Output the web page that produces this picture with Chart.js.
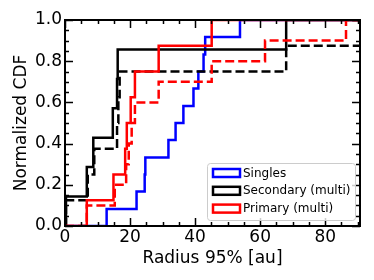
<!DOCTYPE html>
<html>
<head>
<meta charset="utf-8">
<script src="https://cdn.jsdelivr.net/npm/chart.js@4.4.9/dist/chart.umd.min.js"></script>
<style>
  html, body { margin: 0; padding: 0; background: #fff; }
</style>
</head>
<body>
<canvas id="cdf-chart" width="374" height="280"></canvas>
<script>
// radius values where each CDF steps up, and the CDF level after the step
const singlesX = [0, 12.8, 22.0, 24.5, 24.7, 31.8, 34.0, 36.4, 39.5, 41.0, 42.6, 43.1, 53.8, 95];
const singlesY = [0, 0.083, 0.167, 0.25, 0.333, 0.417, 0.5, 0.583, 0.667, 0.75, 0.833, 0.917, 1.0, 1.0];

const secondaryX = [0, 0.3, 6.7, 8.7, 14.7, 16.0, 16.2, 68.0, 95];
const secondaryY = [0, 0.143, 0.286, 0.429, 0.571, 0.714, 0.857, 1.0, 1.0];

const secondaryDashX = [0, 0.3, 7.0, 9.0, 16.0, 16.4, 16.8, 68.0, 95];
const secondaryDashY = [0, 0.125, 0.25, 0.375, 0.5, 0.625, 0.75, 0.875, 0.875];

const primaryX = [0, 6.7, 14.9, 18.5, 19.0, 20.2, 21.5, 28.8, 45.1, 95];
const primaryY = [0, 0.125, 0.25, 0.375, 0.5, 0.625, 0.75, 0.875, 1.0, 1.0];

const primaryDashX = [0, 6.7, 15.3, 18.8, 19.6, 20.5, 21.5, 28.8, 45.1, 61.5, 86.4, 95];
const primaryDashY = [0, 0.1, 0.2, 0.3, 0.4, 0.5, 0.6, 0.7, 0.8, 0.9, 1.0, 1.0];

const xTicks = [0, 20, 40, 60, 80];
const yTicks = [0.0, 0.2, 0.4, 0.6, 0.8, 1.0];
const xMin = 0, xMax = 90.7;
const yMin = 0, yMax = 1.0;
const xTitle = 'Radius 95% [au]';
const yTitle = 'Normalized CDF';

const toPoints = (xs, ys) => xs.map((x, i) => ({ x: x, y: ys[i] }));

const makeSet = (label, xs, ys, color, dashed, order, inLegend) => ({
    label: label,
    data: toPoints(xs, ys),
    borderColor: color,
    borderWidth: 2.5,
    borderDash: dashed ? [9, 4] : [],
    pointRadius: 0,
    stepped: 'before',
    fill: false,
    order: order,
    inLegend: inLegend
});

// inward ticks on all four sides, with minor ticks, plus the black frame
const frameTicks = {
    id: 'frameTicks',
    afterDatasetsDraw(chart) {
        const { ctx, chartArea: a, scales: { x, y } } = chart;
        ctx.save();
        ctx.strokeStyle = '#000';
        ctx.lineWidth = 1.5;
        ctx.beginPath();
        for (let i = 0; i * 5 <= xMax; i++) {
            const px = Math.round(x.getPixelForValue(i * 5)) + 0.5;
            const len = i % 4 === 0 ? 8 : 4;
            ctx.moveTo(px, a.bottom); ctx.lineTo(px, a.bottom - len);
            ctx.moveTo(px, a.top); ctx.lineTo(px, a.top + len);
        }
        for (let i = 0; i <= 20; i++) {
            const py = Math.round(y.getPixelForValue(i * 0.05)) + 0.5;
            const len = i % 4 === 0 ? 8 : 4;
            ctx.moveTo(a.left, py); ctx.lineTo(a.left + len, py);
            ctx.moveTo(a.right, py); ctx.lineTo(a.right - len, py);
        }
        ctx.stroke();
        ctx.lineWidth = 2;
        ctx.strokeRect(a.left, a.top, a.right - a.left, a.bottom - a.top);
        ctx.restore();
    }
};

// matplotlib-style legend box in the lower right corner
const legendBox = {
    id: 'legendBox',
    afterDraw(chart) {
        const { ctx, chartArea: a } = chart;
        const items = chart.data.datasets.filter(d => d.inLegend);
        const w = 148, h = 57;
        const left = a.right - 5 - w, top = a.bottom - 6 - h;
        ctx.save();
        ctx.beginPath();
        ctx.roundRect(left + 0.5, top + 0.5, w, h, 3);
        ctx.fillStyle = 'rgba(255,255,255,0.8)';
        ctx.fill();
        ctx.strokeStyle = '#cccccc';
        ctx.lineWidth = 1;
        ctx.stroke();
        ctx.font = '12px "DejaVu Sans"';
        ctx.textBaseline = 'middle';
        ctx.textAlign = 'left';
        items.forEach((d, i) => {
            const cy = top + 10 + i * 17.8;
            ctx.strokeStyle = d.borderColor;
            ctx.lineWidth = 2.5;
            ctx.strokeRect(left + 6, cy - 4, 27, 8);
            ctx.fillStyle = '#000';
            ctx.fillText(d.label, left + 36, cy + 0.5);
        });
        ctx.restore();
    }
};

Chart.defaults.font.family = '"DejaVu Sans"';
Chart.defaults.color = '#000';

new Chart(document.getElementById('cdf-chart').getContext('2d'), {
    type: 'line',
    data: {
        datasets: [
            makeSet('Singles', singlesX, singlesY, '#0000ff', false, 5, true),
            makeSet('Secondary (multi)', secondaryX, secondaryY, '#000000', false, 4, true),
            makeSet('Primary (multi)', primaryX, primaryY, '#ff0000', false, 2, true),
            makeSet('Secondary dashed', secondaryDashX, secondaryDashY, '#000000', true, 3, false),
            makeSet('Primary dashed', primaryDashX, primaryDashY, '#ff0000', true, 1, false)
        ]
    },
    options: {
        responsive: false,
        animation: false,
        layout: { padding: { top: 20, right: 14, left: 0, bottom: 0 } },
        plugins: {
            legend: { display: false },
            tooltip: { enabled: false }
        },
        scales: {
            x: {
                type: 'linear',
                min: xMin,
                max: xMax,
                grid: { display: false, drawTicks: false },
                border: { display: false },
                ticks: {
                    padding: 1,
                    maxRotation: 0,
                    autoSkip: false,
                    font: { size: 17 }
                },
                afterBuildTicks: (scale) => {
                    scale.ticks = xTicks.map(v => ({ value: v }));
                },
                title: {
                    display: true,
                    text: xTitle,
                    font: { size: 17 },
                    padding: { top: 0, bottom: 11 }
                },
                afterFit: (scale) => { scale.height = 54; }
            },
            y: {
                min: yMin,
                max: yMax,
                grid: { display: false, drawTicks: false },
                border: { display: false },
                ticks: {
                    padding: 3,
                    autoSkip: false,
                    font: { size: 17 },
                    callback: (v) => v.toFixed(1)
                },
                afterBuildTicks: (scale) => {
                    scale.ticks = yTicks.map(v => ({ value: v }));
                },
                title: {
                    display: true,
                    text: yTitle,
                    font: { size: 17 },
                    padding: { top: 11, bottom: 0 }
                },
                afterFit: (scale) => { scale.width = 65; }
            }
        }
    },
    plugins: [frameTicks, legendBox]
});
</script>
</body>
</html>
